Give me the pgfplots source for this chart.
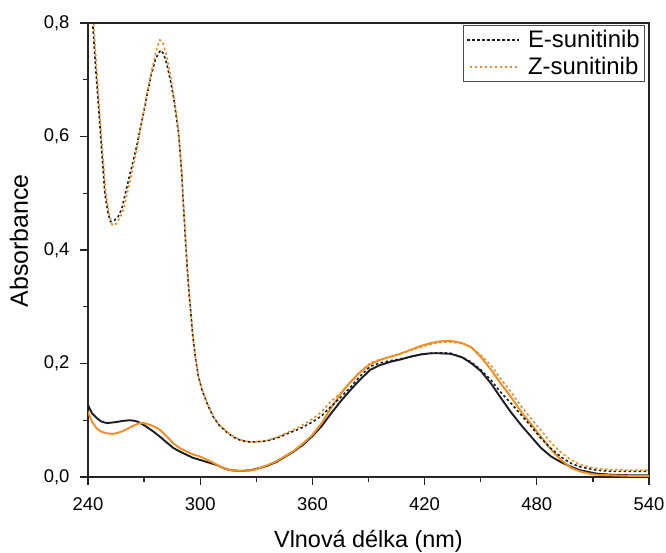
\documentclass[border=0pt]{standalone}
\usepackage{pgfplots}
\pgfplotsset{compat=1.18}
\usepackage{pgfplotstable}
\usepackage{fontspec}
\setmainfont{Liberation Sans}
\definecolor{zorange}{RGB}{245,140,30}
\definecolor{edark}{RGB}{28,28,38}

\pgfplotstableread{
x y
240 0.97
241 0.89
242.5 0.80
244 0.725
245.4 0.664
247.3 0.576
249 0.50
250.7 0.465
252 0.450
254 0.452
256 0.458
258 0.472
260 0.500
262 0.528
264 0.555
266 0.582
268 0.615
270.4 0.652
272 0.680
274 0.711
276 0.735
277.7 0.747
279 0.752
280.5 0.745
282 0.729
284 0.700
285.7 0.670
287 0.640
288.4 0.606
289.3 0.570
290.2 0.529
291 0.480
292 0.425
293 0.370
294 0.325
294.7 0.300
296 0.250
297.4 0.211
299 0.177
301 0.153
304 0.127
307 0.106
310 0.092
314.5 0.078
318 0.070
322 0.064
326 0.062
330 0.062
334 0.063
337.5 0.065
342 0.070
347 0.077
351 0.082
355 0.088
360 0.097
365 0.108
369.6 0.123
375 0.140
380.3 0.158
385 0.176
391 0.195
396 0.201
401.8 0.205
407 0.208
412.5 0.212
418 0.216
423.3 0.218
428 0.219
434 0.218
440 0.211
444.8 0.203
450 0.189
455.5 0.171
460 0.152
466.2 0.130
472 0.108
477 0.089
482 0.069
487.7 0.050
493 0.035
498.4 0.024
503 0.018
507.4 0.015
512 0.012
520 0.010
530 0.010
540 0.010
}\Edotted

\pgfplotstableread{
x y
240 0.97
241 0.89
243 0.80
244.5 0.725
245.8 0.664
247.7 0.576
249.5 0.500
251.5 0.460
253 0.444
255 0.446
257 0.456
259 0.472
261 0.500
263 0.530
265 0.560
267 0.595
269 0.630
271 0.665
273 0.700
275 0.730
277 0.758
278.5 0.770
280 0.765
282 0.742
284 0.710
285.7 0.675
287 0.645
288.4 0.610
289.3 0.575
290.2 0.533
291 0.485
292 0.430
293 0.373
294 0.328
294.7 0.303
296 0.253
297.4 0.213
299 0.178
301 0.155
304 0.128
307 0.107
310 0.093
314.5 0.079
318 0.071
322 0.065
326 0.062
330 0.062
334 0.063
337.5 0.066
342 0.071
347 0.079
351 0.085
355 0.092
360 0.102
365 0.115
369.6 0.132
375 0.148
380.3 0.167
385 0.184
391 0.201
396 0.207
401.8 0.212
407 0.217
412.5 0.223
418 0.229
423.3 0.234
428 0.237
434 0.238
440 0.235
444.8 0.229
450 0.215
455.5 0.197
460 0.176
466.2 0.150
472 0.123
477 0.103
482 0.083
487.7 0.060
493 0.043
498.4 0.030
503 0.022
507.4 0.018
512 0.015
520 0.013
530 0.012
540 0.012
}\Zdotted

\pgfplotstableread{
x y
240 0.127
242 0.113
244.6 0.104
247 0.098
250 0.095
253 0.096
255.4 0.097
259 0.099
262.4 0.100
265 0.099
267 0.097
269 0.093
271 0.089
275 0.080
278.5 0.071
282 0.061
285.7 0.051
289 0.045
292.8 0.039
296 0.034
300 0.030
305 0.025
309 0.021
313 0.015
316 0.012
320 0.011
323 0.011
327 0.012
332 0.016
336 0.020
341 0.027
345 0.035
350 0.045
355 0.057
360 0.072
365 0.090
370 0.112
375 0.133
380 0.152
385 0.170
391 0.189
396 0.197
401.8 0.203
407 0.207
412.5 0.212
418 0.216
423.3 0.218
428 0.218
434 0.217
440 0.211
444.8 0.201
450 0.187
455.5 0.165
460 0.143
466.2 0.114
472 0.090
477 0.071
482 0.052
487.7 0.036
493 0.026
498.4 0.018
503 0.012
507.4 0.009
512 0.006
520 0.004
530 0.003
540 0.003
}\Esolid

\pgfplotstableread{
x y
240 0.115
242 0.098
244.6 0.086
247 0.080
250 0.077
253 0.076
255 0.077
258 0.080
260.6 0.084
264 0.090
267.7 0.095
270 0.095
273 0.092
276 0.088
278.5 0.083
282 0.072
285.7 0.059
289 0.051
292.8 0.045
296 0.040
300 0.036
304 0.030
307 0.025
311 0.018
316 0.012
320 0.011
324 0.011
328 0.012
332 0.016
336 0.021
341 0.028
345 0.036
350 0.046
355 0.059
360 0.074
365 0.095
370 0.122
375 0.146
380 0.166
385 0.183
391 0.199
396 0.206
401.8 0.212
407 0.217
412.5 0.224
418 0.231
423.3 0.236
428 0.239
434 0.240
440 0.236
444.8 0.229
450 0.212
455.5 0.189
460 0.168
466.2 0.141
472 0.113
477 0.093
482 0.072
487.7 0.048
493 0.030
498.4 0.016
503 0.010
507.4 0.0065
512 0.004
520 0.003
530 0.002
540 0.002
}\Zsolid

\begin{document}
\begin{tikzpicture}
\begin{axis}[
  scale only axis,
  width=561bp, height=454bp,
  xmin=240, xmax=540, ymin=0, ymax=0.8,
  xtick={240,300,...,540},
  ytick={0,0.2,...,0.8},
  minor x tick num=1,
  minor y tick num=1,
  xtick pos=left, ytick pos=left,
  tick align=outside,
  major tick length=8bp, minor tick length=4.5bp,
  axis line style={line width=1.4bp, black!85},
  tick style={line width=1.2bp, black!85},
  /pgf/number format/assume math mode=true,
  xticklabel style={font=\fontsize{18.5}{22}\selectfont, yshift=-9bp, /pgf/number format/1000 sep={}},
  yticklabel style={font=\fontsize{18.5}{22}\selectfont, xshift=-7bp, /pgf/number format/.cd, fixed, fixed zerofill, precision=1, use comma},
  xlabel={Vlnová délka (nm)},
  ylabel={Absorbance},
  every axis x label/.style={font=\fontsize{23.5}{27}\selectfont, at={(rel axis cs:0.5,0)}, anchor=base, yshift=-70bp},
  every axis y label/.style={font=\fontsize{25}{29}\selectfont, at={(rel axis cs:-0.107,0.52)}, anchor=base, rotate=90},
  legend style={at={(rel axis cs:0.993,0.995)}, anchor=north east, draw=black!70, line width=0.8bp,
    inner xsep=3bp, inner ysep=3bp, row sep=4bp},
  legend cell align=left,
  legend image code/.code={\draw[#1] (0bp,0bp) -- (52bp,0bp);},
]
\addplot[edark, line width=1.9bp, forget plot] table[x=x,y=y]{\Esolid};
\addplot[zorange, line width=1.9bp, forget plot] table[x=x,y=y]{\Zsolid};
\addplot[edark, line width=1.6bp, dash pattern=on 2.5bp off 2.5bp] table[x=x,y=y]{\Edotted};
\addlegendentry{\hspace{6bp}\fontsize{24}{28}\selectfont E-sunitinib}
\addplot[zorange, line width=1.6bp, dash pattern=on 2.5bp off 2.5bp, dash phase=2.5bp] table[x=x,y=y]{\Zdotted};
\addlegendentry{\hspace{6bp}\fontsize{24}{28}\selectfont Z-sunitinib}
\coordinate (O) at (rel axis cs:0,0);
\end{axis}
\pgfresetboundingbox
\path (O) ++(-88bp,-76bp) rectangle ++(666bp,553bp);
\end{tikzpicture}
\end{document}
